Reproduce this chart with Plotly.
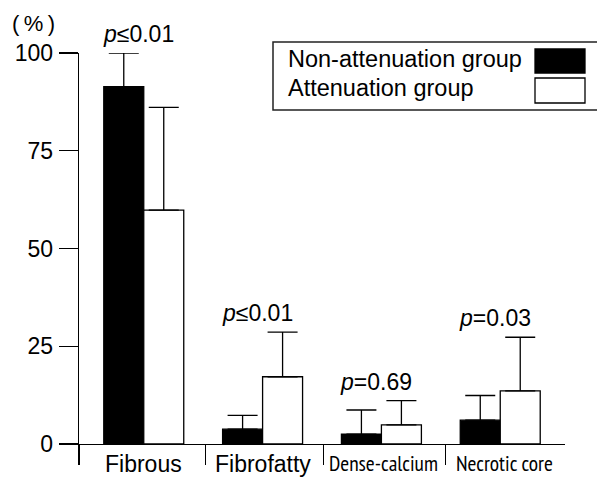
import plotly.graph_objects as go

categories = ["Fibrous", "Fibrofatty", "Dense-calcium", "Necrotic core"]
non_att_mean = [91.4, 3.8, 2.5, 6.1]
non_att_sd = [8.6, 3.5, 6.2, 6.3]
att_mean = [59.8, 17.2, 4.9, 13.6]
att_sd = [26.3, 11.4, 6.2, 13.7]
p_ops = ["≤", "≤", "=", "="]
p_vals = ["0.01", "0.01", "0.69", "0.03"]
y_ticks = [0, 25, 50, 75, 100]
series_names = ["Non-attenuation group", "Attenuation group"]

W, H = 597, 477
L, R, T, B = 79, 32, 53, 33
PW, PH = W - L - R, H - T - B
XR = [-0.545, 3.545]
LW = 1.3
FONT = "Liberation Sans, Arial, Helvetica, sans-serif"
NARROW = "PT Sans Narrow, Roboto Condensed, sans-serif"

def px(x):
    return (x - L) / PW

def py(y):
    return (H - B - y) / PH

xs = list(range(len(categories)))

fig = go.Figure()
fig.add_trace(go.Bar(
    x=xs, y=non_att_mean, name=series_names[0],
    marker=dict(color="black", line=dict(color="black", width=LW)),
    error_y=dict(type="data", array=non_att_sd, arrayminus=[0] * 4, symmetric=False,
                 color="black", thickness=LW, width=15),
    showlegend=False, hoverinfo="skip",
))
fig.add_trace(go.Bar(
    x=xs, y=att_mean, name=series_names[1],
    marker=dict(color="white", line=dict(color="black", width=LW)),
    error_y=dict(type="data", array=att_sd, arrayminus=[0] * 4, symmetric=False,
                 color="black", thickness=LW, width=15),
    showlegend=False, hoverinfo="skip",
))

annotations = []
for i in xs:
    top = max(non_att_mean[i] + non_att_sd[i], att_mean[i] + att_sd[i])
    annotations.append(dict(
        x=i, y=top, xref="x", yref="y", xanchor="center", yanchor="bottom",
        text=f"<i>p</i>{p_ops[i]}{p_vals[i]}", showarrow=False, yshift=4, xshift=-5,
        font=dict(family=FONT, size=23, color="black"),
    ))
for i, c in enumerate(categories):
    narrow = i >= 2
    annotations.append(dict(
        x=i, y=0, xref="x", yref="paper", xanchor="center", yanchor="top",
        text=c, showarrow=False, yshift=(-3 if narrow else -5),
        xshift=(2 if i == 2 else (4 if i == 3 else 0)),
        font=dict(family=NARROW if narrow else FONT, size=21.5 if narrow else 23, color="black"),
    ))
annotations.append(dict(
    x=px(33), y=py(23), xref="paper", yref="paper", xanchor="center", yanchor="middle",
    text="(\u2009%\u2009)", showarrow=False,
    font=dict(family=FONT, size=22, color="black"),
))
annotations.append(dict(
    x=px(286), y=py(59), xref="paper", yref="paper", xanchor="left", yanchor="middle",
    text=series_names[0], showarrow=False, font=dict(family=FONT, size=23.5, color="black"),
))
annotations.append(dict(
    x=px(286), y=py(88.5), xref="paper", yref="paper", xanchor="left", yanchor="middle",
    text=series_names[1], showarrow=False, font=dict(family=FONT, size=23.5, color="black"),
))

shapes = [
    dict(type="rect", xref="paper", yref="paper", x0=px(273), x1=px(610), y0=py(110), y1=py(42),
         line=dict(color="#222", width=1.5), fillcolor="white", layer="above"),
    dict(type="rect", xref="paper", yref="paper", x0=px(535), x1=px(585), y0=py(73), y1=py(49),
         line=dict(color="black", width=LW), fillcolor="black", layer="above"),
    dict(type="rect", xref="paper", yref="paper", x0=px(535), x1=px(585), y0=py(103), y1=py(78),
         line=dict(color="black", width=LW), fillcolor="white", layer="above"),
]

fig.update_layout(
    width=W, height=H,
    margin=dict(l=L, r=R, t=T, b=B, pad=0, autoexpand=False),
    paper_bgcolor="white", plot_bgcolor="white",
    barmode="group", bargap=0.327, bargroupgap=0,
    font=dict(family=FONT, size=23, color="black"),
    annotations=annotations, shapes=shapes,
    showlegend=False,
)
fig.update_xaxes(
    range=XR, showgrid=False, zeroline=False, automargin=False,
    showline=True, linecolor="black", linewidth=LW,
    tickmode="array", tickvals=[XR[0] + 0.001, 0.52, 1.51, 2.54],
    ticks="outside", ticklen=20, tickwidth=LW, tickcolor="black",
    showticklabels=False,
)
fig.update_yaxes(
    range=[0, 100], showgrid=False, zeroline=False, automargin=False,
    showline=True, linecolor="black", linewidth=LW,
    tickmode="array", tickvals=y_ticks,
    ticks="outside", ticklen=19, tickwidth=LW, tickcolor="black",
    ticklabelstandoff=1,
    tickfont=dict(family=FONT, size=23, color="black"),
)

fig.write_html(
    "out.html",
    config={"displayModeBar": False, "staticPlot": True},
    post_script="document.body.style.margin='0';document.body.style.overflow='hidden';",
)
